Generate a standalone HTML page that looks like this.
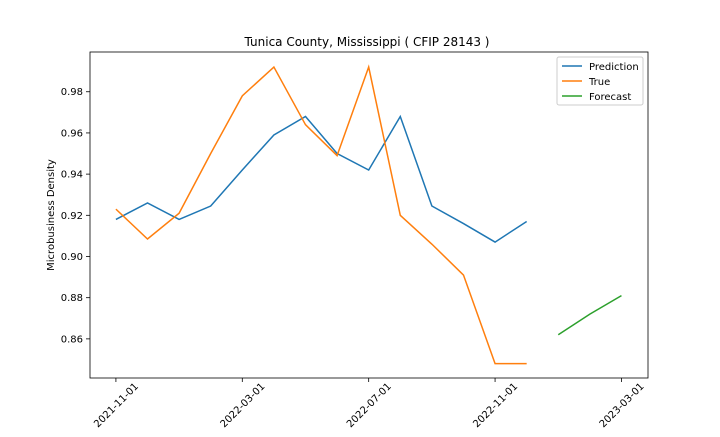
<!DOCTYPE html>
<html><head><meta charset="utf-8"><style>
body{margin:0;background:#fff;font-family:"Liberation Sans","DejaVu Sans",sans-serif;}
svg text{font-family:"DejaVu Sans","Liberation Sans",sans-serif;}
</style></head><body>
<svg id="chart" width="720" height="432" viewBox="0 0 720 432">
<rect width="720" height="432" fill="#fff"/>
<text x="367" y="46" font-size="12" text-anchor="middle">Tunica County, Mississippi ( CFIP 28143 )</text>
<g id="axes"></g>
<g id="series"></g>
<rect x="90" y="52" width="558" height="326" fill="none" stroke="#000" stroke-width="0.8"/>
<text transform="translate(54,215) rotate(-90)" font-size="10" text-anchor="middle">Microbusiness Density</text>
<g>
<rect x="557" y="57" width="86" height="48" fill="#fff" stroke="#ccc" rx="2"/>
<line x1="562" y1="66" x2="582" y2="66" stroke="#1f77b4" stroke-width="1.5"/>
<text x="589" y="70" font-size="10">Prediction</text>
<line x1="562" y1="81" x2="582" y2="81" stroke="#ff7f0e" stroke-width="1.5"/>
<text x="589" y="85" font-size="10">True</text>
<line x1="562" y1="96" x2="582" y2="96" stroke="#2ca02c" stroke-width="1.5"/>
<text x="589" y="100" font-size="10">Forecast</text>
</g>
</svg>
<script>
const predMonths=[0,1,2,3,4,5,6,7,8,9,10,11,12,13];
const predValues=[0.918,0.926,0.918,0.9245,0.942,0.959,0.968,0.950,0.942,0.968,0.9245,0.916,0.907,0.917];
const trueMonths=[0,1,2,3,4,5,6,7,8,9,10,11,12,13];
const trueValues=[0.923,0.9085,0.921,0.950,0.978,0.992,0.964,0.949,0.992,0.920,0.906,0.891,0.848,0.848];
const fcMonths=[14,15,16];
const fcValues=[0.862,0.872,0.881];
const yTicks=[0.86,0.88,0.90,0.92,0.94,0.96,0.98];
const xTickMonths=[0,4,8,12,16];
const xTickLabels=["2021-11-01","2022-03-01","2022-07-01","2022-11-01","2023-03-01"];
const X0=90,X1=648,Y0=378,Y1=52,xmin=-0.82,xmax=16.84,ymin=0.841,ymax=0.9993;
const sx=i=>X0+(i-xmin)/(xmax-xmin)*(X1-X0);
const sy=v=>Y0-(v-ymin)/(ymax-ymin)*(Y0-Y1);
const NS="http://www.w3.org/2000/svg";
const axes=document.getElementById('axes'),ser=document.getElementById('series');
function mk(t,a,p){const e=document.createElementNS(NS,t);for(const k in a)e.setAttribute(k,a[k]);p.appendChild(e);return e;}
yTicks.forEach(v=>{
 const y=sy(v);
 const l=mk('line',{x1:X0-4,x2:X0,y1:y,y2:y,stroke:'#000','stroke-width':0.8},axes);
 
 
 const t=mk('text',{x:X0-7,y:y+3.5,'font-size':10,'text-anchor':'end'},axes);
 t.textContent=v.toFixed(2);
 
 
});
xTickMonths.forEach((m,i)=>{
 const x=sx(m);
 const l=mk('line',{x1:x,x2:x,y1:Y0,y2:Y0+4,stroke:'#000','stroke-width':0.8},axes);
 
 
 const t=mk('text',{x:0,y:3.5,'font-size':10,'text-anchor':'middle',transform:`translate(${x},${Y0+27}) rotate(-45)`},axes);
 t.textContent=xTickLabels[i];
 
 
});
function line(ms,vs,c,name){
 const p=mk('polyline',{points:ms.map((m,i)=>sx(m)+','+sy(vs[i])).join(' '),fill:'none',stroke:c,'stroke-width':1.5},ser);
 
 
}
line(predMonths,predValues,'#1f77b4','prediction-line');
line(trueMonths,trueValues,'#ff7f0e','true-line');
line(fcMonths,fcValues,'#2ca02c','forecast-line');
</script>
</body></html>
